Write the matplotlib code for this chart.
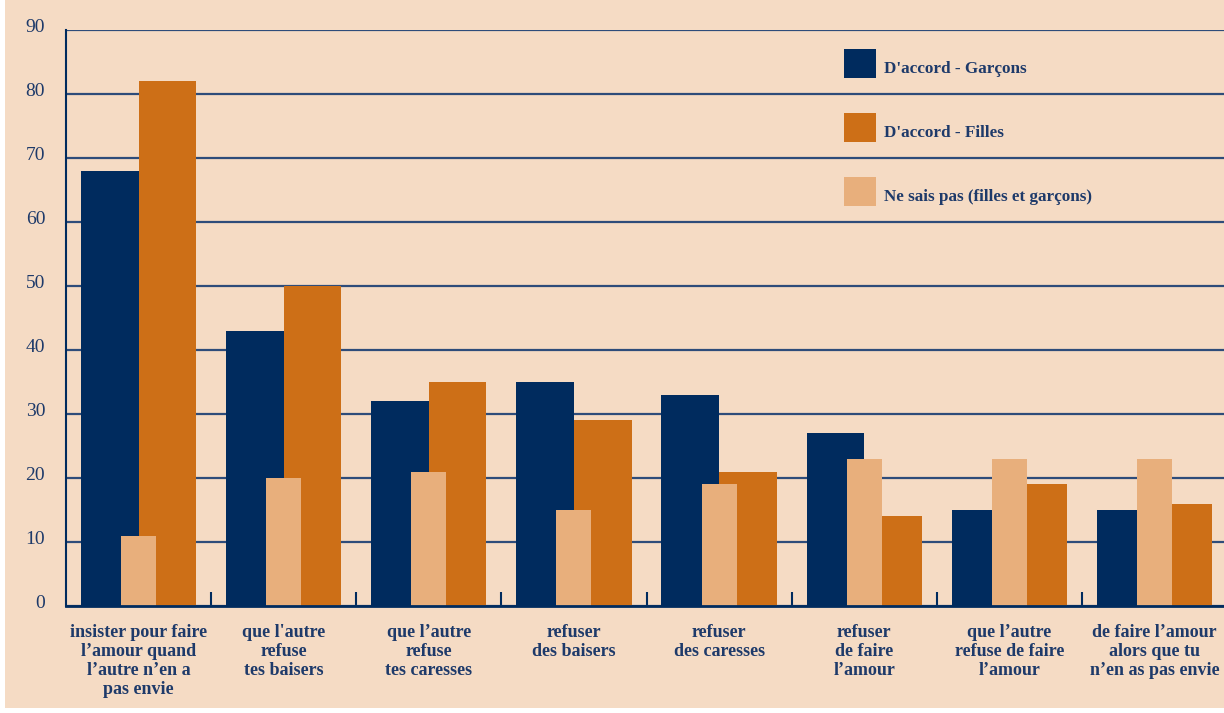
import numpy as np
import matplotlib.pyplot as plt
from matplotlib.patches import Rectangle, Patch
import matplotlib.transforms as mtransforms

# Données
categories = [
    "insister pour faire\nl’amour quand\nl’autre n’en a\npas envie",
    "que l'autre\nrefuse\ntes baisers",
    "que l’autre\nrefuse\ntes caresses",
    "refuser\ndes baisers",
    "refuser\ndes caresses",
    "refuser\nde faire\nl’amour",
    "que l’autre\nrefuse de faire\nl’amour",
    "de faire l’amour\nalors que tu\nn’en as pas envie",
]
garcons = [68, 43, 32, 35, 33, 27, 15, 15]
filles = [82, 50, 35, 29, 21, 14, 19, 16]
ne_sais_pas = [11, 20, 21, 15, 19, 23, 23, 23]
noms_series = ["D'accord - Garçons", "D'accord - Filles", "Ne sais pas (filles et garçons)"]
graduations = [0, 10, 20, 30, 40, 50, 60, 70, 80, 90]

# Couleurs
marine = "#002B5E"
orange = "#CD6F17"
clair = "#E8AF7C"
fond = "#F5DBC4"
texte = "#1E3A6A"

plt.rcParams['font.family'] = ['Liberation Serif', 'DejaVu Serif']

fig = plt.figure(figsize=(12.24, 7.13), dpi=100)
fig.patch.set_facecolor("white")
fig.patches.append(Rectangle((5 / 1224, 5 / 713), 1 - 5 / 1224, 1 - 5 / 713,
                             transform=fig.transFigure, facecolor=fond,
                             edgecolor="none", zorder=-10))

ax = fig.add_axes([66 / 1224, 1 - 606 / 713, 1161 / 1224, 576 / 713])
ax.set_facecolor("none")

x = np.arange(len(categories))
w = 0.397
w_clair = 0.241

ax.bar(x - w / 2, garcons, w, color=marine, zorder=3)
ax.bar(x + w / 2, filles, w, color=orange, zorder=3)
ax.bar(x, ne_sais_pas, w_clair, color=clair, zorder=4)

ax.set_xlim(-0.5, 7.5)
ax.set_ylim(0, 90)

# Grille
ax.set_yticks(graduations)
ax.yaxis.grid(True, color="#2E4C7A", linewidth=1.6, zorder=1)
ax.set_axisbelow(True)
ax.tick_params(axis="y", length=0, pad=15, labelsize=14, labelcolor=texte)
decalage = mtransforms.ScaledTranslation(0, 4 / 100, fig.dpi_scale_trans)
for lab in ax.get_yticklabels():
    lab.set_transform(lab.get_transform() + decalage)

# Axe x : traits entre les groupes, étiquettes au centre
ax.set_xticks(x[:-1] + 0.5)
ax.set_xticklabels([])
ax.tick_params(axis="x", which="major", direction="in", length=10,
               width=1.5, color=marine)
ax.set_xticks(x, minor=True)
ax.set_xticklabels(categories, minor=True, fontweight="bold", fontsize=13,
                   color=texte, linespacing=1.15)
ax.tick_params(axis="x", which="minor", length=0, pad=13)

for s in ["top", "right"]:
    ax.spines[s].set_visible(False)
ax.spines["left"].set_color(marine)
ax.spines["left"].set_linewidth(1.5)
ax.spines["bottom"].set_color(marine)
ax.spines["bottom"].set_linewidth(2)
ax.spines["bottom"].set_zorder(5)

# Légende
poignees = [Patch(facecolor=marine), Patch(facecolor=orange), Patch(facecolor=clair)]
leg = ax.legend(poignees, noms_series, loc="upper left",
                bbox_to_anchor=(844 / 1224, 1 - 49 / 713),
                bbox_transform=fig.transFigure, frameon=False,
                prop={"weight": "bold", "size": 12.3}, labelcolor=texte,
                handlelength=1.87, handleheight=2.235, labelspacing=2.05,
                handletextpad=0.5, borderpad=0, borderaxespad=0)
bas = mtransforms.ScaledTranslation(0, -4 / 100, fig.dpi_scale_trans)
for t in leg.get_texts():
    t.set_transform(t.get_transform() + bas)

fig.savefig("out.png", dpi=100)
